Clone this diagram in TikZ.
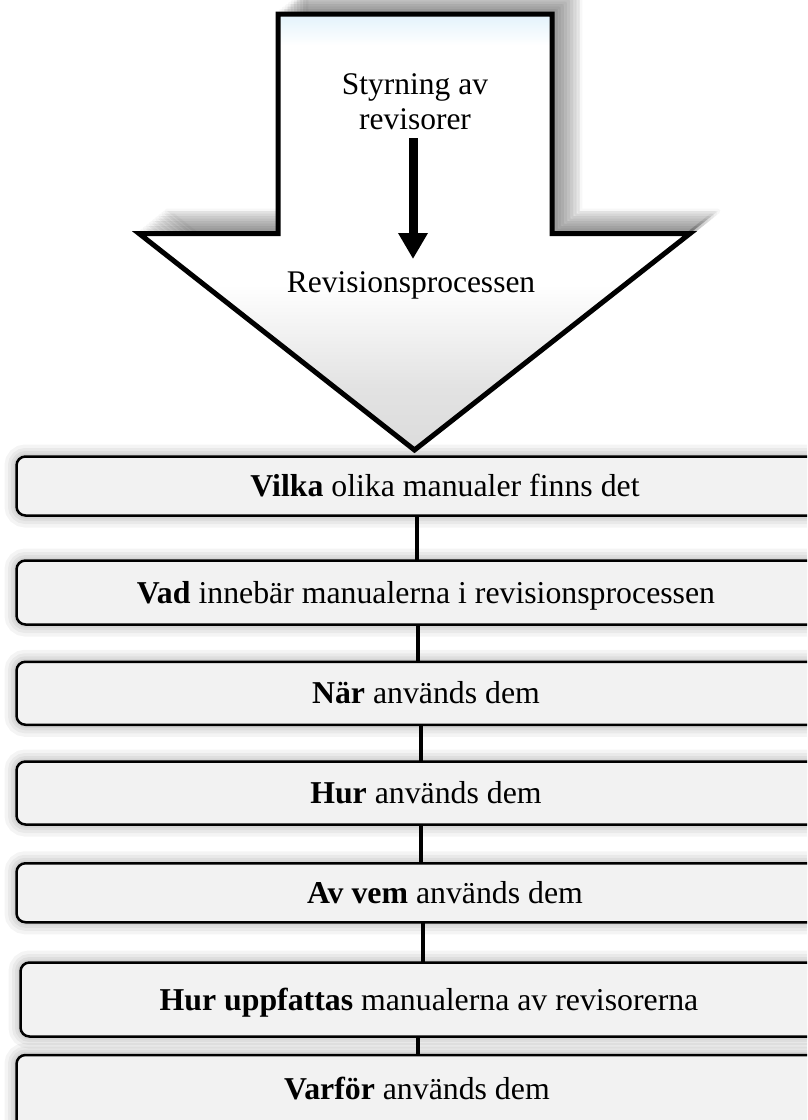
\documentclass[tikz,border=0pt]{standalone}
\usepackage{fontspec}
\setmainfont{Liberation Serif}
\usetikzlibrary{arrows.meta}
\definecolor{boxfill}{HTML}{F2F2F2}
\definecolor{shA}{HTML}{E2F2FB}
\definecolor{shC}{HTML}{E2E2E2}
\definecolor{shD}{HTML}{DCDCDC}
\pgfdeclareverticalshading{bigarrowshade}{100bp}{color(0bp)=(shD); color(25bp)=(shD); color(32bp)=(shC); color(44bp)=(white); color(71.4bp)=(white); color(75bp)=(shA); color(100bp)=(shA)}
\tikzset{
  glow/.style={
    preaction={draw=black, draw opacity=0.045, line width=24pt},
    preaction={draw=black, draw opacity=0.045, line width=17pt},
    preaction={draw=black, draw opacity=0.045, line width=11pt},
    preaction={draw=black, draw opacity=0.045, line width=6pt}},
  qbox/.style={glow, draw=black, line width=2.5pt, fill=boxfill, rounded corners=9pt,
    inner sep=0pt, outer sep=0pt, font=\fontsize{31.8}{36}\selectfont,
    text height=21pt, text depth=0pt},
  conn/.style={draw=black, line width=4.5pt},
  bigtext/.style={font=\fontsize{31.5}{35}\selectfont, inner sep=0pt, outer sep=0pt},
  bigarrow/.style={draw=black, line width=5pt, shading=bigarrowshade},
  shadowlayer/.style={fill=black, fill opacity=0.05, draw=black, draw opacity=0.03,
    line width=5pt, line join=round},
  smallarrow/.style={line width=9pt, -{Triangle[width=28pt,length=26pt]}}
}
\def\arrowpath{(278,14) -- (552,14) -- (552,233.5) -- (690,233.5) -- (414.5,450)
  -- (139,233.5) -- (278,233.5) -- cycle}
\begin{document}
\begin{tikzpicture}[x=1pt,y=-1pt]
\useasboundingbox (0,0) rectangle (807,1120);
\clip (0,0) rectangle (807,1120);
\fill[white] (0,0) rectangle (807,1120);
% soft shadow of big arrow
\foreach \k in {1,...,9}{
  \begin{scope}[shift={(3.1*\k,-2.5*\k)}]
    \path[shadowlayer] \arrowpath;
  \end{scope}
}
% big arrow
\path[bigarrow] \arrowpath;
\node[bigtext, align=center, anchor=base] (styr) at (415,129) {Styrning av\\revisorer};
\node[bigtext, anchor=base] (rev) at (411,292) {Revisionsprocessen};
\coordinate (ta) at (413,138);
\coordinate (tb) at (413,259);
\draw[smallarrow] (ta) -- (tb);
% boxes
\node[qbox, minimum width=857pt, minimum height=59pt] (b1) at (445,486) {\textbf{Vilka} olika manualer finns det};
\node[qbox, minimum width=819pt, minimum height=64pt] (b2) at (426,592.5) {\textbf{Vad} innebär manualerna i revisionsprocessen};
\node[qbox, minimum width=819pt, minimum height=63pt] (b3) at (426,693.25) {\textbf{När} används dem};
\node[qbox, minimum width=819pt, minimum height=63pt] (b4) at (426,793) {\textbf{Hur} används dem};
\node[qbox, minimum width=857pt, minimum height=59pt] (b5) at (445,892.75) {\textbf{Av vem} används dem};
\node[qbox, minimum width=817pt, minimum height=74pt] (b6) at (429,999.5) {\textbf{Hur uppfattas} manualerna av revisorerna};
\node[qbox, minimum width=801pt, minimum height=76pt, text depth=9pt] (b7) at (417,1093) {\textbf{Varför} används dem};
% connectors
\draw[conn] (417,0 |- b1.south) -- (417,0 |- b2.north);
\draw[conn] (418,0 |- b2.south) -- (418,0 |- b3.north);
\draw[conn] (421,0 |- b3.south) -- (421,0 |- b4.north);
\draw[conn] (421,0 |- b4.south) -- (421,0 |- b5.north);
\draw[conn] (423,0 |- b5.south) -- (423,0 |- b6.north);
\draw[conn] (418,0 |- b6.south) -- (418,0 |- b7.north);
\end{tikzpicture}
\end{document}
